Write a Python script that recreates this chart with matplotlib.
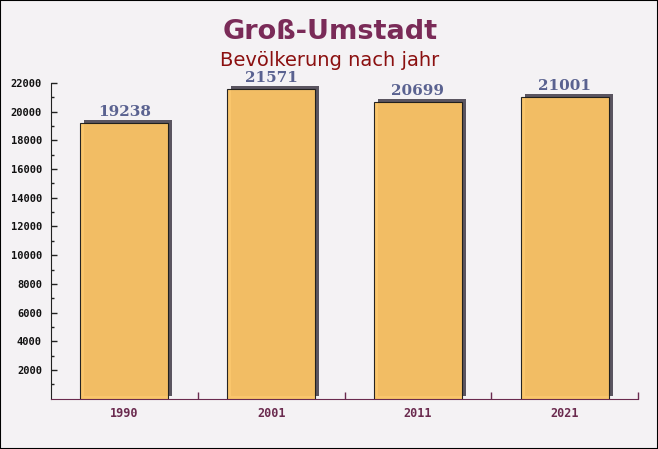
import matplotlib.pyplot as plt
import numpy as np
from matplotlib.patches import Rectangle

# Data
years = ["1990", "2001", "2011", "2021"]
population = [19238, 21571, 20699, 21001]
y_ticks = [2000, 4000, 6000, 8000, 10000, 12000, 14000, 16000, 18000, 20000, 22000]

W, H = 658, 449
fig = plt.figure(figsize=(W / 100, H / 100), dpi=100)
fig.patch.set_facecolor("#f4f2f4")

# axes in pixel coordinates: x 51..638, y 83..398 (22000 -> 0)
left, right = 51, 638
top_px, bottom_px = 83, 398.7
ax = fig.add_axes([left / W, 1 - bottom_px / H, (right - left) / W, (bottom_px - top_px) / H])
ax.set_facecolor("none")

x = np.arange(len(years))
bar_w = 0.6
px_x = len(years) / (right - left)
px_y = 22000 / (bottom_px - top_px)

# shadow behind bars (offset right and up)
for xi, v in zip(x, population):
    ax.add_patch(Rectangle((xi - bar_w / 2 + 4 * px_x, 3 * px_y), bar_w, v,
                           facecolor="#5a5560", edgecolor="none", zorder=2))
ax.bar(x, population, width=bar_w, color="#fbc465", alpha=0.95,
       edgecolor="#1a1a1a", linewidth=0.8, zorder=3)

for xi, v in zip(x, population):
    ax.text(xi, v + 4 * px_y, str(v), ha="center", va="bottom", fontsize=11,
            fontweight="bold", family="DejaVu Serif", color="#5a6290", zorder=4)

ax.set_xlim(-0.5, len(years) - 0.5)
ax.set_ylim(0, 22000)
ax.set_yticks(y_ticks)
ax.set_yticks(np.arange(1000, 22000, 1000), minor=True)
ax.set_xticks(x)
ax.set_xticks(np.arange(0.5, len(years), 1.0), minor=True)
ax.set_xticklabels(years)

for lab in ax.get_yticklabels():
    lab.set_family("DejaVu Sans Mono")
    lab.set_fontweight("bold")
    lab.set_fontsize(7.5)
    lab.set_color("#111111")
for lab in ax.get_xticklabels():
    lab.set_family("DejaVu Sans Mono")
    lab.set_fontweight("bold")
    lab.set_fontsize(8.5)
    lab.set_color("#6a2a4e")

ax.tick_params(axis="y", which="major", length=4, width=1, color="#222222",
               direction="in", pad=6.5)
ax.tick_params(axis="y", which="minor", length=2.5, width=1, color="#222222", direction="in")
ax.tick_params(axis="x", which="major", length=0, pad=6)
ax.tick_params(axis="x", which="minor", length=5, width=1, color="#6a2a4e", direction="in")

for s in ["top", "right"]:
    ax.spines[s].set_visible(False)
ax.spines["left"].set_color("#222222")
ax.spines["bottom"].set_color("#6a2a4e")

fig.text(330 / W, 1 - 32 / H, "Groß-Umstadt", ha="center", va="center",
         fontsize=19.5, fontweight="bold", color="#7a2b58")
fig.text(330 / W, 1 - 61 / H, "Bevölkerung nach jahr", ha="center", va="center",
         fontsize=14, color="#8b1010")

# border around figure
fig.add_artist(Rectangle((0, 0), 1, 1, transform=fig.transFigure, fill=False,
                         edgecolor="#000000", linewidth=1.5))

fig.savefig("out.png", dpi=100)
